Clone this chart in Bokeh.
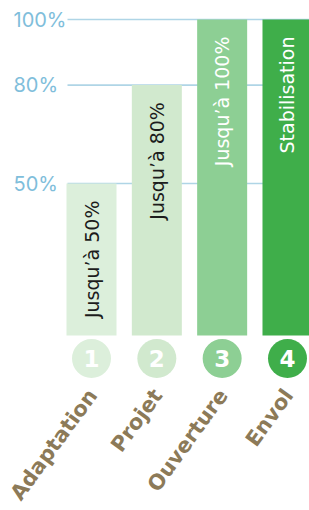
import math
from bokeh.plotting import figure
from bokeh.models import Range1d
from bokeh.core.properties import value
from bokeh.embed import file_html
from bokeh.resources import INLINE

# ---- data ----
stages = ["Adaptation", "Projet", "Ouverture", "Envol"]
numbers = ["1", "2", "3", "4"]
levels = [50, 80, 100, 100]
bar_texts = ["Jusqu\u2019à 50%", "Jusqu\u2019à 80%", "Jusqu\u2019à 100%", "Stabilisation"]
ticks = [50, 80, 100]
tick_labels = ["50%", "80%", "100%"]

# ---- styles ----
bar_colors = ["#dcefdb", "#d1e9ce", "#8dcf94", "#3fae4a"]
bar_text_colors = ["#1c1c1c", "#1c1c1c", "#ffffff", "#ffffff"]
grid_color = "#afd5e6"
tick_color = "#7fbedb"
label_color = "#8c7a58"

W, H = 309, 510
PX_X = 65.33          # pixels per category step
X0_PX = 91            # pixel of first category centre inside frame
PX_Y = 3.28           # pixels per percent
Y0_PX = 347           # pixel (from top) of 0 %

xs = [i + 1 for i in range(len(stages))]

def dx(px):
    return px / PX_X

def dy(px):
    return px / PX_Y

p = figure(width=W, height=H, output_backend="svg", toolbar_location=None,
           x_range=Range1d(1 - dx(X0_PX), 1 + dx(W - X0_PX)),
           y_range=Range1d(-dy(H - Y0_PX), dy(Y0_PX)),
           x_axis_location=None, y_axis_location=None,
           min_border=0, outline_line_color=None)
p.grid.visible = False
p.background_fill_color = "white"
p.border_fill_color = "white"

base = dy(12)  # bars start slightly above zero, as in the reference

# gridlines
gx0 = 1 - dx(24)
gx1 = p.x_range.end
p.segment(x0=[gx0] * len(ticks), y0=ticks, x1=[gx1] * len(ticks), y1=ticks,
          line_color=grid_color, line_width=1.6)

# tick labels
p.text(x=[1 - dx(78)] * len(ticks), y=ticks, text=tick_labels,
       text_align="left", text_baseline="middle",
       text_font=value("Inter"), text_font_size="20px", text_color=tick_color)

# bars
p.vbar(x=xs, top=levels, bottom=base, width=dx(50),
       fill_color=bar_colors, line_color=None)

# bar texts (rotated)
p.text(x=xs, y=[v - dy(17) for v in levels], text=bar_texts,
       angle=math.pi / 2, text_align="right", text_baseline="middle",
       text_font=value("DejaVu Sans"), text_font_size="19px",
       text_color=bar_text_colors)

# numbered circles
cy = base - dy(23)
p.scatter(x=xs, y=[cy] * len(xs), size=39, marker="circle",
          fill_color=bar_colors, line_color=None)
p.text(x=xs, y=[cy] * len(xs), text=numbers,
       text_align="center", text_baseline="middle",
       text_font=value("DejaVu Sans"), text_font_style="bold",
       text_font_size="23px", text_color="white")

# stage labels (rotated)
p.text(x=[x + dx(1) for x in xs], y=[base - dy(56)] * len(xs), text=stages,
       angle=math.radians(54), text_align="right", text_baseline="alphabetic",
       text_font=value("DejaVu Sans"), text_font_style="bold",
       text_font_size="21px", text_color=label_color)

open("out.html", "w").write(file_html(p, INLINE))
